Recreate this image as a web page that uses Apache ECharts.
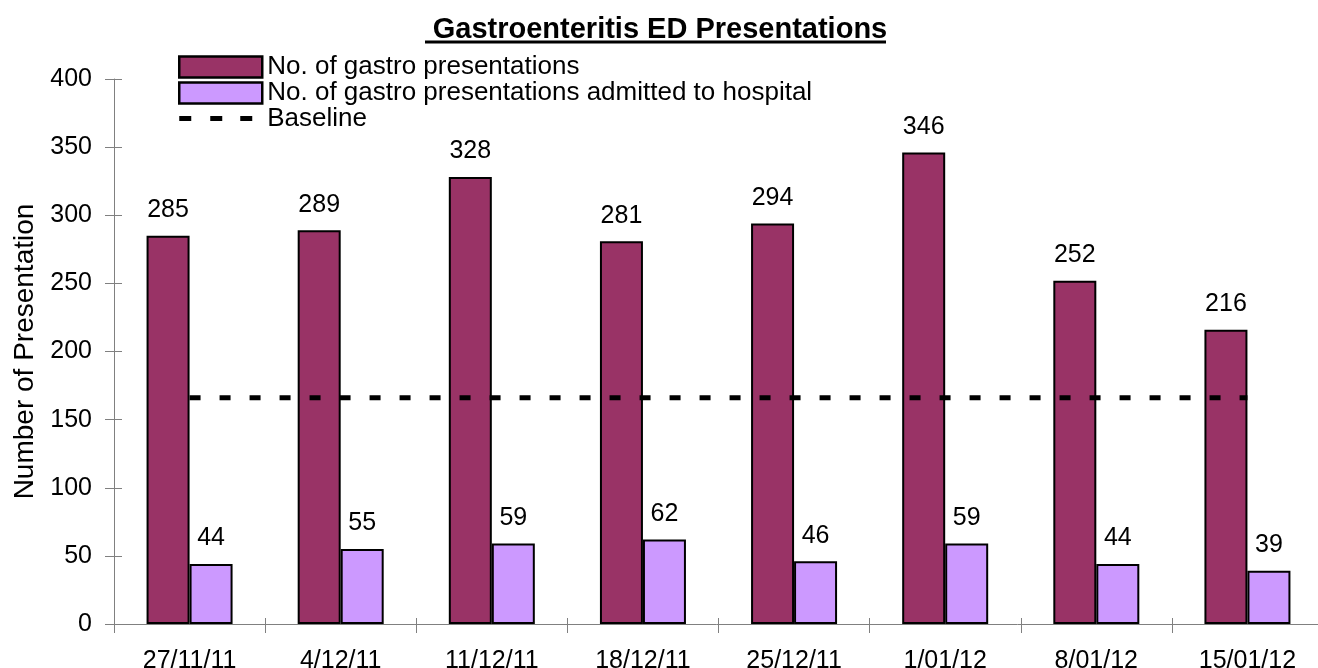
<!DOCTYPE html>
<html>
<head>
<meta charset="utf-8">
<script src="https://cdn.jsdelivr.net/npm/echarts@6/dist/echarts.min.js"></script>
<style>
html,body{margin:0;padding:0;background:#fff;}
#chart{width:1318px;height:668px;}
</style>
</head>
<body>
<div id="chart"></div>
<script>
const categories = ['27/11/11','4/12/11','11/12/11','18/12/11','25/12/11','1/01/12','8/01/12','15/01/12'];
const presentations = [285, 289, 328, 281, 294, 346, 252, 216];
const admitted = [44, 55, 59, 62, 46, 59, 44, 39];
const baseline = [166, 166, 166, 166, 166, 166, 166, 166];

const FONT = '"Liberation Sans", Arial, sans-serif';
const chart = echarts.init(document.getElementById('chart'), null, {renderer: 'canvas'});
const axisGray = '#808080';
const dashIcon = 'path://M0,0h0.01v0.01h-0.01z M83,21h-0.01v-0.01h0.01z M0,7.5h12v5h-12z M31,7.5h12v5h-12z M61,7.5h12v5h-12z';

chart.setOption({
  animation: false,
  backgroundColor: '#ffffff',
  title: {
    text: 'Gastroenteritis ED Presentations',
    left: 655, top: 10, textAlign: 'center',
    textStyle: {fontFamily: FONT, fontSize: 29, fontWeight: 'bold', color: '#000'}
  },
  graphic: [{
    type: 'line', silent: true,
    shape: {x1: 425, y1: 42, x2: 886, y2: 42},
    style: {stroke: '#000', lineWidth: 3}
  }],
  legend: {
    orient: 'vertical', left: 178, top: 54, padding: 0,
    itemWidth: 83, itemHeight: 21, itemGap: 0,
    textStyle: {fontFamily: FONT, fontSize: 26, color: '#000'},
    data: [
      {name: 'No. of gastro presentations', icon: 'rect', itemStyle: {borderWidth: 2.5}},
      {name: 'No. of gastro presentations admitted to hospital', icon: 'rect', itemStyle: {borderWidth: 2.5}},
      {name: 'Baseline', icon: dashIcon, itemStyle: {color: '#000', borderWidth: 0}}
    ]
  },
  grid: {left: 114, top: 79, width: 1209, bottom: 44, containLabel: false, outerBoundsMode: 'none'},
  xAxis: [{
    type: 'category', data: categories, boundaryGap: true,
    axisLine: {lineStyle: {color: axisGray, width: 1}},
    axisTick: {show: true, inside: false, length: 9, lineStyle: {color: axisGray}},
    axisLabel: {fontFamily: FONT, fontSize: 25, color: '#000', margin: 25, interval: 0}
  }, {
    type: 'category', data: categories, boundaryGap: true, position: 'bottom',
    axisLine: {show: false},
    axisTick: {show: true, inside: true, length: 6, lineStyle: {color: axisGray}},
    axisLabel: {show: false}
  }],
  yAxis: [{
    type: 'value', min: 0, max: 400, interval: 50,
    name: 'Number of Presentation', nameLocation: 'middle', nameGap: 72, nameRotate: 90,
    nameTextStyle: {fontFamily: FONT, fontSize: 28, color: '#000'},
    axisLine: {show: true, lineStyle: {color: axisGray, width: 1}},
    axisTick: {show: true, inside: false, length: 9, lineStyle: {color: axisGray}},
    axisLabel: {fontFamily: FONT, fontSize: 25, color: '#000', margin: 22},
    splitLine: {show: false}
  }, {
    type: 'value', min: 0, max: 400, interval: 50, position: 'left',
    axisLine: {show: false},
    axisTick: {show: true, inside: true, length: 8, lineStyle: {color: axisGray}},
    axisLabel: {show: false},
    splitLine: {show: false}
  }],
  series: [{
    name: 'No. of gastro presentations', type: 'bar', data: presentations,
    barWidth: 43, barGap: '0%',
    itemStyle: {color: '#993366', borderColor: '#000', borderWidth: 2},
    label: {show: true, position: 'top', distance: 13, fontFamily: FONT, fontSize: 25, color: '#000'},
    z: 2
  }, {
    name: 'No. of gastro presentations admitted to hospital', type: 'bar', data: admitted,
    barWidth: 43, barGap: '0%',
    itemStyle: {color: '#CC99FF', borderColor: '#000', borderWidth: 2},
    label: {show: true, position: 'top', distance: 13, fontFamily: FONT, fontSize: 25, color: '#000'},
    z: 2
  }, {
    name: 'Baseline', type: 'line', data: baseline,
    symbol: 'none', showSymbol: false,
    lineStyle: {color: '#000', width: 5, type: [11, 19]},
    itemStyle: {color: '#000'},
    z: 5
  }]
});
</script>
</body>
</html>
